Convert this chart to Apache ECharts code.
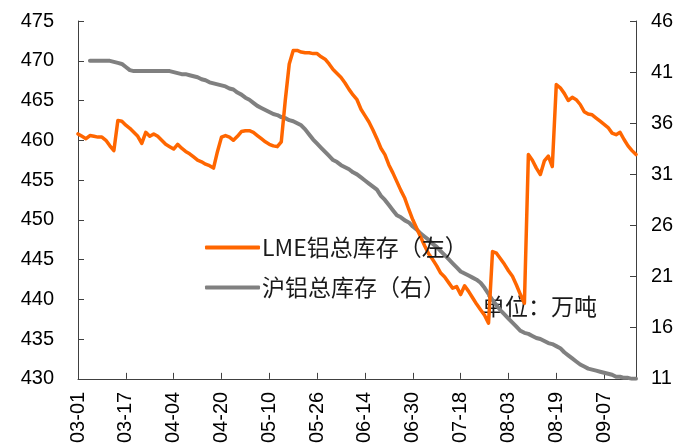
<!DOCTYPE html>
<html>
<head>
<meta charset="utf-8">
<script src="https://cdn.jsdelivr.net/npm/echarts@6/dist/echarts.min.js"></script>
<style>
  html, body { margin: 0; padding: 0; background: #fff; }
  #main { width: 688px; height: 446px; }
</style>
</head>
<body>
<div id="main"></div>
<script>
// 日期（交易日）
var dates = [
  '03-01','03-02','03-03','03-04','03-07','03-08','03-09','03-10','03-11','03-14',
  '03-15','03-16','03-17','03-18','03-21','03-22','03-23','03-24','03-25','03-28',
  '03-29','03-30','03-31','04-01','04-04','04-05','04-06','04-07','04-08','04-11',
  '04-12','04-13','04-14','04-15','04-18','04-19','04-20','04-21','04-22','04-25',
  '04-26','04-27','04-28','04-29','05-04','05-05','05-06','05-09','05-10','05-11',
  '05-12','05-13','05-16','05-17','05-18','05-19','05-20','05-23','05-24','05-25',
  '05-26','05-27','05-31','06-01','06-02','06-03','06-06','06-07','06-08','06-09',
  '06-10','06-13','06-14','06-15','06-16','06-17','06-20','06-21','06-22','06-23',
  '06-24','06-27','06-28','06-29','06-30','07-01','07-04','07-05','07-06','07-07',
  '07-08','07-11','07-12','07-13','07-14','07-15','07-18','07-19','07-20','07-21',
  '07-22','07-25','07-26','07-27','07-28','07-29','08-01','08-02','08-03','08-04',
  '08-05','08-08','08-09','08-10','08-11','08-12','08-15','08-16','08-17','08-18',
  '08-19','08-22','08-23','08-24','08-25','08-26','08-30','08-31','09-01','09-02',
  '09-05','09-06','09-07','09-08','09-09','09-12','09-13','09-14','09-15','09-16',
  '09-19'
];

// LME铝总库存（左轴）
var lmeStock = [
  460.8, 460.5, 460.2, 460.6, 460.5, 460.4, 460.4, 460.0, 459.3, 458.7,
  462.5, 462.4, 461.9, 461.5, 461.0, 460.5, 459.6, 461.0, 460.5, 460.8,
  460.5, 460.0, 459.5, 459.2, 458.9, 459.5, 459.0, 458.6, 458.3, 457.9,
  457.5, 457.3, 457.0, 456.8, 456.5, 458.6, 460.4, 460.6, 460.4, 460.0,
  460.5, 461.1, 461.2, 461.2, 461.0, 460.6, 460.2, 459.8, 459.5, 459.3,
  459.2, 459.8, 465.0, 469.6, 471.3, 471.3, 471.1, 471.0, 471.0, 470.9,
  470.9, 470.5, 470.2, 469.6, 468.9, 468.4, 467.9, 467.2, 466.4, 465.7,
  465.1, 463.9, 463.1, 462.3, 461.3, 460.2, 459.0, 458.2, 456.9, 455.9,
  454.8, 453.7, 452.7, 451.3, 450.0, 448.9, 447.8, 446.7, 445.7, 445.0,
  444.2, 443.3, 442.8, 442.1, 441.4, 441.6, 440.6, 441.7, 441.0, 440.2,
  439.4, 438.7, 438.0, 437.0, 446.0, 445.8, 445.1, 444.4, 443.6, 442.9,
  441.8, 440.6, 439.5, 458.2, 457.5, 456.5, 455.7, 457.4, 458.0, 456.7,
  467.0, 466.6, 465.9, 465.0, 465.4, 465.1, 464.5, 463.6, 463.3, 463.2,
  462.8, 462.4, 462.0, 461.6, 460.9, 460.7, 461.0, 460.1, 459.3, 458.7,
  458.2
];

// 沪铝总库存（右轴）
var shStock = [
  null, null, null, 42.1, 42.1, 42.1, 42.1, 42.1, 42.1, 42.0,
  41.9, 41.8, 41.5, 41.2, 41.1, 41.1, 41.1, 41.1, 41.1, 41.1,
  41.1, 41.1, 41.1, 41.1, 41.0, 40.9, 40.8, 40.8, 40.7, 40.6,
  40.5, 40.3, 40.2, 40.0, 39.9, 39.8, 39.7, 39.6, 39.4, 39.3,
  39.0, 38.8, 38.5, 38.3, 38.0, 37.7, 37.5, 37.3, 37.1, 36.9,
  36.8, 36.6, 36.5, 36.3, 36.2, 36.0, 35.8, 35.4, 34.9, 34.4,
  34.0, 33.6, 33.2, 32.8, 32.4, 32.2, 31.9, 31.7, 31.5, 31.2,
  31.0, 30.7, 30.4, 30.1, 29.8, 29.5, 28.9, 28.5, 28.0, 27.5,
  27.0, 26.8, 26.5, 26.3, 25.9, 25.6, 25.2, 24.9, 24.6, 24.2,
  23.9, 23.5, 23.1, 22.7, 22.3, 21.9, 21.5, 21.3, 21.1, 20.9,
  20.7, 20.4, 19.9, 19.3, 18.7, 18.2, 17.7, 17.3, 16.9, 16.5,
  16.1, 15.7, 15.5, 15.4, 15.2, 15.0, 14.9, 14.7, 14.5, 14.4,
  14.2, 14.0, 13.6, 13.3, 13.0, 12.7, 12.4, 12.2, 12.0, 11.9,
  11.8, 11.7, 11.6, 11.5, 11.4, 11.2, 11.2, 11.1, 11.1, 11.0,
  11.0
];

var seriesNames = ['LME铝总库存（左）', '沪铝总库存（右）'];
var unitText = '单位：万吨';

var numFont = '"Liberation Sans", Arial, sans-serif';
var cjkFont = '"Noto Sans CJK SC", sans-serif';
var axisColor = '#404040';

var chart = echarts.init(document.getElementById('main'));

var option = {
  backgroundColor: '#fff',
  animation: false,
  grid: { left: 78, right: 52, top: 21, bottom: 67 },
  legend: {
    data: seriesNames,
    orient: 'vertical',
    left: 200,
    top: 231,
    itemWidth: 55,
    itemHeight: 4,
    itemGap: 17,
    icon: 'roundRect',
    textStyle: { fontFamily: cjkFont, fontSize: 23, color: '#1a1a1a', lineHeight: 23, padding: [0, 0, 0, -3] }
  },
  graphic: [{
    type: 'text',
    left: 482,
    top: 295,
    style: { text: unitText, font: '23px ' + cjkFont, fill: '#1a1a1a' }
  }],
  xAxis: {
    type: 'category',
    data: dates,
    boundaryGap: false,
    axisLine: { lineStyle: { color: axisColor, width: 1 } },
    axisTick: { inside: true, length: 6, interval: 11, lineStyle: { color: axisColor } },
    axisLabel: {
      interval: 11,
      rotate: 90,
      margin: 13,
      fontSize: 20,
      fontFamily: numFont,
      color: '#000'
    },
    splitLine: { show: false }
  },
  yAxis: [{
    type: 'value',
    min: 430,
    max: 475,
    interval: 5,
    axisLine: { show: true, lineStyle: { color: axisColor, width: 1 } },
    axisTick: { show: true, inside: true, length: 6, lineStyle: { color: axisColor } },
    axisLabel: { margin: 24, fontSize: 20, fontFamily: numFont, color: '#000' },
    splitLine: { show: false }
  }, {
    type: 'value',
    min: 11,
    max: 46,
    interval: 5,
    position: 'right',
    axisLine: { show: true, lineStyle: { color: axisColor, width: 1 } },
    axisTick: { show: true, inside: true, length: 6, lineStyle: { color: axisColor } },
    axisLabel: { margin: 15, fontSize: 20, fontFamily: numFont, color: '#000' },
    splitLine: { show: false }
  }],
  series: [{
    name: seriesNames[0],
    type: 'line',
    yAxisIndex: 0,
    data: lmeStock,
    showSymbol: false,
    itemStyle: { color: '#FF6600' },
    lineStyle: { color: '#FF6600', width: 3.5, cap: 'round', join: 'round' },
    z: 3
  }, {
    name: seriesNames[1],
    type: 'line',
    yAxisIndex: 1,
    data: shStock,
    showSymbol: false,
    itemStyle: { color: '#808080' },
    lineStyle: { color: '#808080', width: 4, cap: 'round', join: 'round' },
    z: 2
  }]
};

chart.setOption(option);
</script>
</body>
</html>
